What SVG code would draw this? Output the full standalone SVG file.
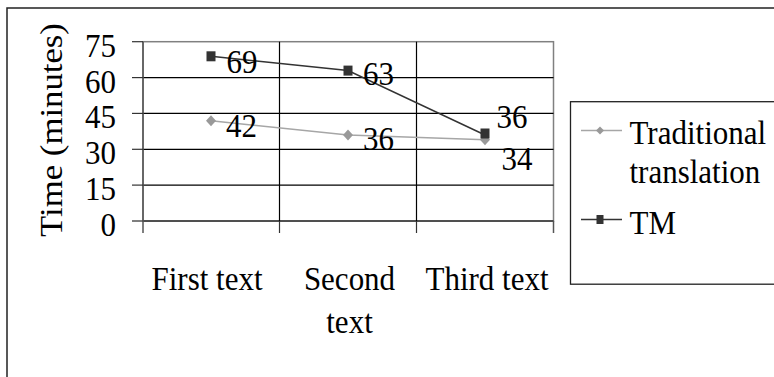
<svg xmlns="http://www.w3.org/2000/svg" width="774" height="377" viewBox="0 0 774 377">
<style>
text{font-family:'Liberation Serif','Times New Roman',Times,'DejaVu Serif',serif;font-size:31px;fill:#000}
.grid{stroke:#000;stroke-width:1.2;fill:none}
.frame{stroke:#808080;stroke-width:1.5;fill:none}
.axis{stroke:#555;stroke-width:1.5;fill:none}
.tick{stroke:#333;stroke-width:1.2}
.tm{stroke:#333;stroke-width:1.5;fill:none}
.tr{stroke:#a6a6a6;stroke-width:1.5;fill:none}
.sq{fill:#333}
.dm{fill:#999}
</style>
<defs>
<rect id="sqm" x="-4.5" y="-5" width="9" height="10" class="sq"/>
<path id="dmm" d="M0,-5.5 L5,0 L0,5.5 L-5,0 Z" class="dm"/>
</defs>
<rect x="0" y="0" width="774" height="377" fill="#fff"/>
<rect id="outer-border" x="7" y="8" width="800" height="400" fill="none" stroke="#222" stroke-width="1.5"/>

<g id="plot-area" font-family="Liberation Serif, Times New Roman, serif">
<rect x="143" y="41.7" width="410.5" height="179.3" class="frame"/>
<g id="gridlines">
<line x1="143" y1="77.6" x2="553.5" y2="77.6" class="grid"/>
<line x1="143" y1="113.4" x2="553.5" y2="113.4" class="grid"/>
<line x1="143" y1="149.3" x2="553.5" y2="149.3" class="grid"/>
<line x1="143" y1="185.1" x2="553.5" y2="185.1" class="grid"/>
<line x1="279.5" y1="41.7" x2="279.5" y2="221" class="grid"/>
<line x1="416.5" y1="41.7" x2="416.5" y2="221" class="grid"/>
</g>
<g id="axes">
<line x1="132" y1="221" x2="553.5" y2="221" class="grid"/>
<line x1="143" y1="41.7" x2="143" y2="233" class="axis"/>
<line x1="132" y1="41.7" x2="143" y2="41.7" class="tick"/>
<line x1="132" y1="77.6" x2="143" y2="77.6" class="tick"/>
<line x1="132" y1="113.4" x2="143" y2="113.4" class="tick"/>
<line x1="132" y1="149.3" x2="143" y2="149.3" class="tick"/>
<line x1="132" y1="185.1" x2="143" y2="185.1" class="tick"/>
<line x1="279.5" y1="221" x2="279.5" y2="233" class="tick"/>
<line x1="416.5" y1="221" x2="416.5" y2="233" class="tick"/>
<line x1="553.5" y1="221" x2="553.5" y2="233" class="axis"/>
</g>
<g id="y-labels" text-anchor="end">
<text transform="translate(116,56.7) scale(1,1.12)">75</text>
<text transform="translate(116,92.6) scale(1,1.12)">60</text>
<text transform="translate(116,128.4) scale(1,1.12)">45</text>
<text transform="translate(116,164.3) scale(1,1.12)">30</text>
<text transform="translate(116,200.1) scale(1,1.12)">15</text>
<text transform="translate(116,236) scale(1,1.12)">0</text>
</g>
<text id="y-title" text-anchor="middle" transform="translate(62,130) scale(1,1.12) rotate(-90)">Time (minutes)</text>
<g id="x-labels" text-anchor="middle">
<text transform="translate(207,290) scale(1,1.12)">First text</text>
<text transform="translate(349.5,290) scale(1,1.12)">Second</text>
<text transform="translate(349.5,333.3) scale(1,1.12)">text</text>
<text transform="translate(487,290) scale(1,1.12)">Third text</text>
</g>
</g>

<g id="connectors">
<polyline id="series-traditional" points="211,120.7 348,135 485,139.8" class="tr"/>
<polyline id="series-tm" points="211,56.3 348,70.6 485,135" class="tm"/>
</g>

<g id="markers-traditional">
<use href="#dmm" x="211" y="120.7"/>
<use href="#dmm" x="348" y="135"/>
<use href="#dmm" x="485" y="139.8"/>
</g>
<g id="markers-tm">
<use href="#sqm" x="211" y="56.3"/>
<use href="#sqm" x="348" y="70.6"/>
<use href="#sqm" x="485" y="133.5"/>
</g>

<g id="data-labels">
<text transform="translate(226.5,72.5) scale(1,1.12)">69</text>
<text transform="translate(363,85) scale(1,1.12)">63</text>
<text transform="translate(496.5,128) scale(1,1.12)">36</text>
<text transform="translate(226,136.5) scale(1,1.12)">42</text>
<text transform="translate(363,150) scale(1,1.12)">36</text>
<text transform="translate(501.5,170) scale(1,1.12)">34</text>
</g>

<g id="legend">
<rect x="570.5" y="101.7" width="240" height="182.5" fill="none" stroke="#222" stroke-width="1.3"/>
<line x1="581" y1="130.5" x2="622" y2="130.5" class="tr"/>
<path d="M600,126.5 L604,130.5 L600,134.5 L596,130.5 Z" class="dm"/>
<text transform="translate(629.5,144) scale(1,1.12)">Traditional</text>
<text transform="translate(629.5,183.3) scale(1,1.12)">translation</text>
<line x1="581" y1="219.5" x2="622" y2="219.5" class="tm"/>
<rect x="596.5" y="215" width="7" height="9" class="sq"/>
<text transform="translate(629.5,234) scale(1,1.12)">TM</text>
</g>
</svg>
